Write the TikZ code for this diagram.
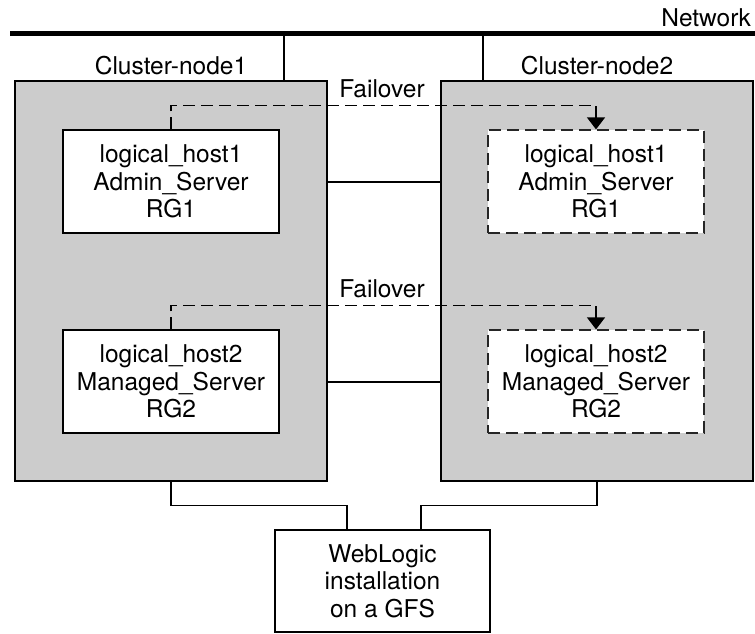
\documentclass[tikz,border=0pt]{standalone}
\usepackage{fontspec}
\setmainfont{TeX Gyre Heros}
\usetikzlibrary{arrows.meta}
\definecolor{clustergray}{gray}{0.8}
\tikzset{
      txt/.style={font=\fontsize{24.5}{27.5}\selectfont, inner sep=0},
      cluster/.style={draw=black, fill=clustergray, line width=1.2, inner sep=0,
            minimum width=312, minimum height=400},
      host/.style={txt, draw=black, fill=white, line width=1.2, align=center,
            minimum width=216, minimum height=103},
      standby/.style={host, draw=black!85, dash pattern=on 12pt off 6pt},
      wire/.style={draw=black, line width=1.2},
      failover/.style={draw=black, line width=1.2, dash pattern=on 12pt off 6pt,
            -{Triangle[width=18pt,length=12pt]}},
}
\begin{document}
\begin{tikzpicture}[x=1pt, y=-1pt]
        \useasboundingbox (0,0) rectangle (755,633);

        % Draw the network
        \coordinate (netL) at (10,33.5);
        \coordinate (netR) at (755,33.5);
        \draw[line width=5] (netL) -- (netR);
        \node[txt, anchor=base east] (net) at (751,26) {Network};

        % Draw the cluster nodes
        \node[cluster] (c1) at (171,281) {};
        \node[cluster] (c2) at (597,281) {};
        \node[txt, anchor=base] (c1lab) at (171,74) {Cluster-node1};
        \node[txt, anchor=base] (c2lab) at (597,74) {Cluster-node2};
        \coordinate (tap1) at (284,33.5);
        \coordinate (tap2) at (483,33.5);
        \draw[wire] (tap1) -- (tap1 |- c1.north);
        \draw[wire] (tap2) -- (tap2 |- c2.north);

        % Draw the resource groups
        \node[host] (h1a) at (171,181.5) {logical\_host1\\Admin\_Server\\RG1};
        \node[standby] (h1b) at (596,181.5) {logical\_host1\\Admin\_Server\\RG1};
        \node[host] (h2a) at (171,381.5) {logical\_host2\\Managed\_Server\\RG2};
        \node[standby] (h2b) at (596,381.5) {logical\_host2\\Managed\_Server\\RG2};

        \draw[wire] (c1.east |- 0,182) -- (c2.west |- 0,182);
        \draw[wire] (c1.east |- 0,382) -- (c2.west |- 0,382);

        % Draw the failovers
        \draw[failover] (h1a.north) -- ++(0,-24) -| (h1b.north);
        \node[txt, anchor=base] (fo1) at (382,97) {Failover};
        \draw[failover] (h2a.north) -- ++(0,-24) -| (h2b.north);
        \node[txt, anchor=base] (fo2) at (382,297) {Failover};

        % Draw the shared storage
        \node[host, minimum width=215, minimum height=102] (gfs) at (382.5,581)
              {WebLogic\\installation\\on a GFS};
        \draw[wire] (c1.south) -- ++(0,24) -| ([xshift=-35.5pt]gfs.north);
        \draw[wire] (c2.south) -- ++(0,24) -| ([xshift=38.5pt]gfs.north);

    \end{tikzpicture}
\end{document}
